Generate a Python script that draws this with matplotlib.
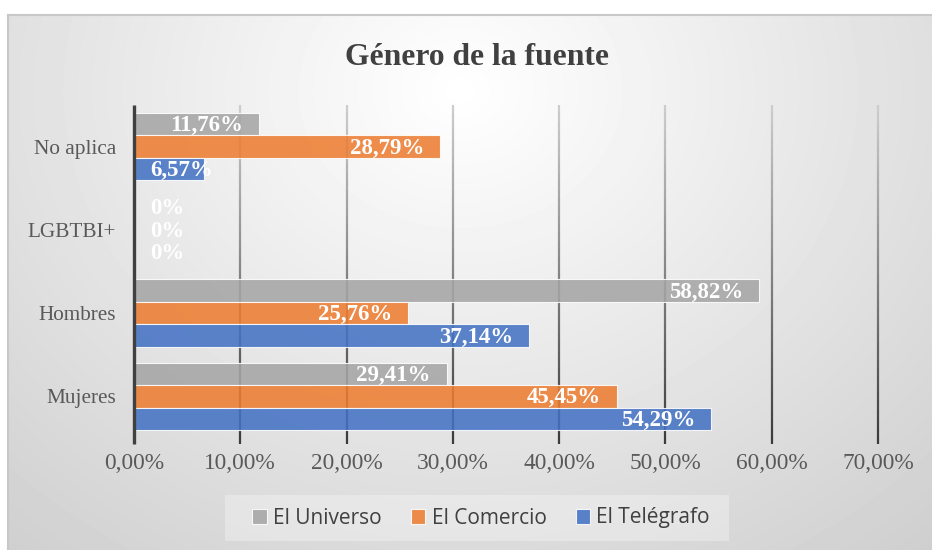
import matplotlib.pyplot as plt
import numpy as np
from matplotlib.collections import LineCollection
from matplotlib.patches import Rectangle, Patch

# datos
categories = ['Mujeres', 'Hombres', 'LGBTBI+', 'No aplica']
series = ['El Universo', 'El Comercio', 'El Telégrafo']
universo = [29.41, 58.82, 0, 11.76]
comercio = [45.45, 25.76, 0, 28.79]
telegrafo = [54.29, 37.14, 0, 6.57]
xticks = [0, 10, 20, 30, 40, 50, 60, 70]
colors = ['#A5A5A5', '#ED7D31', '#4472C4']

W, H = 932, 550
fig = plt.figure(figsize=(W / 100, H / 100), dpi=100)

# fondo con degradado radial
bg = fig.add_axes([0, 0, 1, 1], zorder=-5)
yy, xx = np.mgrid[0:H, 0:W]
r = np.sqrt(((xx - 460) / 1.0) ** 2 + ((yy - 90) / 0.85) ** 2)
img = 1 - 0.17 * np.clip(r / 640, 0, 1.2)
img[(yy < 15) | (xx < 8)] = 1.0
bg.imshow(img, cmap='gray', vmin=0, vmax=1, extent=[0, W, H, 0], aspect='auto',
          interpolation='bilinear')
bg.plot([8, W, ], [15, 15], color='#c8c8c8', lw=1.5)
bg.plot([8, 8], [15, H], color='#c8c8c8', lw=1.5)
bg.set_xlim(0, W)
bg.set_ylim(H, 0)
bg.axis('off')

ax = fig.add_axes([134 / W, (H - 438) / H, 744 / W, 333 / H])
ax.patch.set_alpha(0)

y = np.arange(len(categories))
h = 0.27

# rejilla vertical con degradado
ymin, ymax = -0.57, 3.5
n = 40
ys = np.linspace(ymax, ymin, n + 1)
c_top = np.array([0.80, 0.80, 0.80])
c_bot = np.array([0.22, 0.22, 0.22])
for xv in xticks[1:]:
    segs = [[(xv, ys[i]), (xv, ys[i + 1])] for i in range(n)]
    cols = [tuple(c_top + (c_bot - c_top) * (i / n)) for i in range(n)]
    lc = LineCollection(segs, colors=cols, linewidths=1.6, zorder=1, clip_on=False)
    ax.add_collection(lc)
ax.plot([0, 0], [ymin, ymax], color='#404040', lw=2.4, zorder=4, clip_on=False,
        solid_capstyle='butt')

for vals, off, col in zip([universo, comercio, telegrafo], [h, 0, -h], colors):
    bars = ax.barh(y + off, vals, height=h, color=col, alpha=0.87,
                   edgecolor='white', linewidth=0.8, zorder=2)
    for b, v in zip(bars, vals):
        txt = '0%' if v == 0 else ('%.2f%%' % v).replace('.', ',')
        yc = b.get_y() + b.get_height() / 2
        if v < 10:
            ax.annotate(txt, xy=(0, yc), xytext=(11.5, -1), textcoords='offset points',
                        ha='left', va='center', color='white', fontweight='bold',
                        family='Liberation Serif', fontsize=16.5, zorder=5)
        else:
            ax.annotate(txt, xy=(v, yc), xytext=(-11.5, -1), textcoords='offset points',
                        ha='right', va='center', color='white', fontweight='bold',
                        family='Liberation Serif', fontsize=16.5, zorder=5)

ax.set_xlim(0, 70)
ax.set_ylim(-0.5, 3.5)
ax.set_xticks(xticks)
ax.set_xticklabels([('%.2f%%' % t).replace('.', ',') for t in xticks],
                   family='Liberation Serif', fontsize=16.8, color='#595959')
ax.set_yticks(y)
ax.set_yticklabels(categories, family='Liberation Serif', fontsize=15.3, color='#595959')
ax.tick_params(axis='x', length=0, pad=11)
ax.tick_params(axis='y', length=0, pad=13)
for s in ax.spines.values():
    s.set_visible(False)

fig.text(477 / W, (H - 65) / H, 'Género de la fuente', ha='center', va='baseline',
         family='Liberation Serif', fontweight='bold', fontsize=22.8, color='#404040')

# leyenda
fig.patches.append(Rectangle((225 / W, (H - 541) / H), 504 / W, 46 / H,
                             transform=fig.transFigure, facecolor='white', alpha=0.3,
                             edgecolor='none', zorder=-1))
handles = [Patch(facecolor=c, alpha=0.87, edgecolor='white', linewidth=0.8) for c in colors]
fig.legend(handles, series, loc='center', bbox_to_anchor=(481 / W, (H - 518) / H),
           ncol=3, frameon=False, prop={'family': 'Open Sans', 'size': 15},
           labelcolor='#404040', handlelength=0.7, handleheight=0.7,
           handletextpad=0.3, columnspacing=1.4)

fig.savefig('out.png', dpi=100)
